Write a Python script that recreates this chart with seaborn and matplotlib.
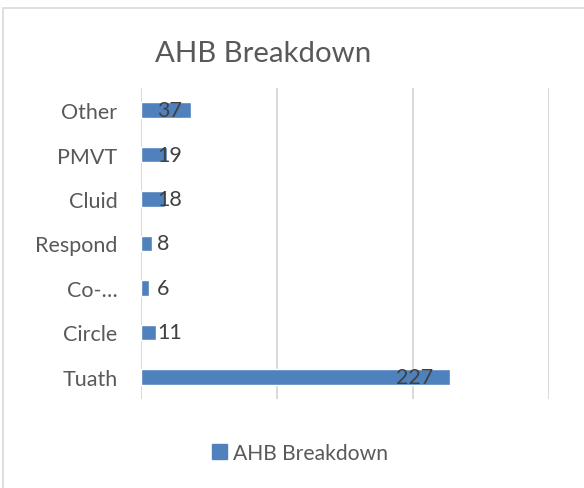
import matplotlib
matplotlib.use("Agg")
import matplotlib.pyplot as plt
import matplotlib.patches as mpatches
import seaborn as sns
import pandas as pd

categories = ["Other", "PMVT", "Cluid", "Respond", "Co-…", "Circle", "Tuath"]
values = [37, 19, 18, 8, 6, 11, 227]
series_name = "AHB Breakdown"
title = "AHB Breakdown"

sns.set_style("white")
plt.rcParams['font.family'] = ['Lato', 'DejaVu Sans']

df = pd.DataFrame({"cat": categories, "val": values})

fig = plt.figure(figsize=(5.84, 4.89), dpi=100)
W, H = 584, 489
ax = fig.add_axes([141 / W, 1 - 400 / H, (549 - 141) / W, (400 - 89) / H])

bar_color = "#4F81BD"
sns.barplot(data=df, y="cat", x="val", orient="h", color=bar_color,
            width=0.35, ax=ax, saturation=1, label=series_name)

ax.set_xlim(0, 300)
ax.set_ylim(6.5, -0.5)
ax.set_xticks([0, 100, 200, 300])
ax.set_xticklabels([])
ax.tick_params(axis="both", length=0)
ax.grid(axis="x", color="#D9D9D9", linewidth=1.4)
ax.grid(axis="y", visible=False)
ax.set_axisbelow(True)
for s in ax.spines.values():
    s.set_visible(False)
ax.set_xlabel("")
ax.set_ylabel("")
ax.tick_params(axis="y", pad=17, labelsize=15.5, labelcolor="#595959")

# data labels
for i, v in enumerate(values):
    if v > 60:
        ax.annotate(str(v), (v, i), xytext=(-12, 0), textcoords="offset points",
                    ha="right", va="center", fontsize=15.5, color="#404040")
    else:
        ax.annotate(str(v), (0, i), xytext=(11.5, 0), textcoords="offset points",
                    ha="left", va="center", fontsize=15.5, color="#404040")

fig.text(263 / W, 1 - 54 / H, title, ha="center", va="center",
         fontsize=21.2, color="#595959")

if ax.get_legend() is not None:
    ax.get_legend().remove()
handle = mpatches.Patch(color=bar_color, label=series_name)
fig.legend(handles=[handle], loc="center", bbox_to_anchor=(300 / W, 1 - 454 / H),
           frameon=False, fontsize=15.2, labelcolor="#595959",
           handlelength=0.7, handleheight=0.7, handletextpad=0.3)

# chart frame
frame = mpatches.Rectangle((3 / W, -0.01), 1.0, 1 - 9 / H + 0.01,
                           transform=fig.transFigure, fill=False,
                           edgecolor="#D9D9D9", linewidth=1.2)
fig.patches.append(frame)

fig.savefig("out.png", dpi=100)
